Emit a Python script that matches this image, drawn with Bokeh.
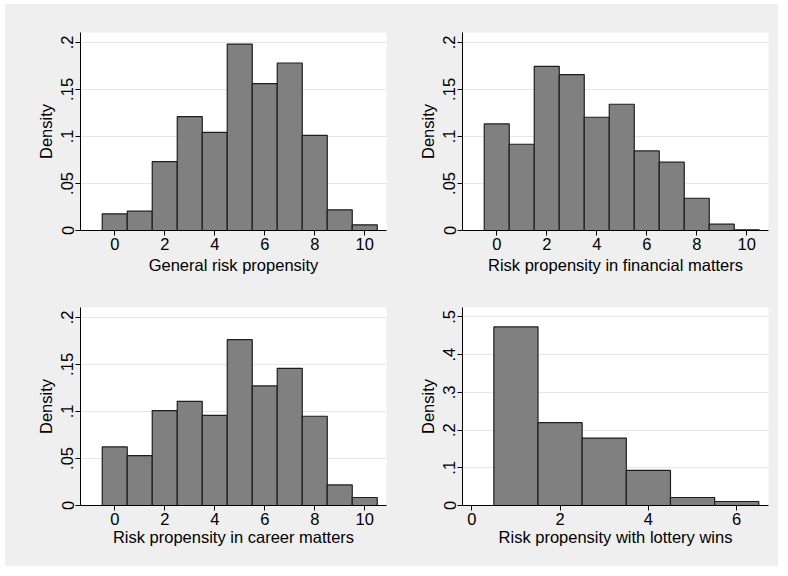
from bokeh.plotting import figure
from bokeh.layouts import column, row
from bokeh.models import Range1d, FixedTicker
from bokeh.embed import file_html
from bokeh.resources import INLINE

# Answer categories (bin centres) and densities for each risk question
scale_0_10 = [0, 1, 2, 3, 4, 5, 6, 7, 8, 9, 10]
general_density = [0.0177, 0.0205, 0.0733, 0.1210, 0.1044, 0.1982, 0.1561, 0.1781, 0.1012, 0.0220, 0.0060]
financial_density = [0.1133, 0.0917, 0.1745, 0.1657, 0.1204, 0.1342, 0.0846, 0.0726, 0.0343, 0.0067, 0.0007]
career_density = [0.0623, 0.0531, 0.1009, 0.1108, 0.0959, 0.1763, 0.1271, 0.1458, 0.0949, 0.0219, 0.0085]
scale_1_6 = [1, 2, 3, 4, 5, 6]
lottery_density = [0.4735, 0.2195, 0.1788, 0.0929, 0.0212, 0.0106]

x_ticks_0_10 = [0, 2, 4, 6, 8, 10]
x_ticks_lottery = [0, 2, 4, 6]
y_ticks_small = [0, 0.05, 0.1, 0.15, 0.2]
y_labels_small = ["0", ".05", ".1", ".15", ".2"]
y_ticks_large = [0, 0.1, 0.2, 0.3, 0.4, 0.5]
y_labels_large = ["0", ".1", ".2", ".3", ".4", ".5"]

BG = "#efefef"
FONT = "Liberation Sans"


def panel(xs, dens, xlabel, xr, yr, xticks, yticks, ylabels,
          width, height, left, right, top, bottom, xlabel_standoff):
    p = figure(width=width, height=height, output_backend="svg",
               toolbar_location=None,
               x_range=Range1d(*xr), y_range=Range1d(*yr),
               min_border_left=left, min_border_right=right,
               min_border_top=top, min_border_bottom=bottom,
               styles={"background-color": BG})
    p.background_fill_color = "white"
    p.border_fill_color = BG
    p.outline_line_color = None

    p.quad(left=[x - 0.5 for x in xs], right=[x + 0.5 for x in xs],
           bottom=[0] * len(xs), top=dens,
           fill_color="#808080", line_color="#1e1e1e", line_width=1.2)

    p.xgrid.grid_line_color = None
    p.ygrid.grid_line_color = "#e6e6e6"
    p.ygrid.grid_line_width = 1.2
    p.ygrid.ticker = FixedTicker(ticks=yticks)

    p.xaxis.ticker = FixedTicker(ticks=xticks)
    p.yaxis.ticker = FixedTicker(ticks=yticks)
    p.yaxis.major_label_overrides = {t: s for t, s in zip(yticks, ylabels)}
    p.yaxis.major_label_orientation = "vertical"

    p.xaxis.axis_label = xlabel
    p.yaxis.axis_label = "Density"
    for ax in (p.xaxis, p.yaxis):
        ax.axis_line_color = "black"
        ax.axis_line_width = 1
        ax.major_tick_line_color = "black"
        ax.major_tick_out = 5
        ax.major_tick_in = 0
        ax.minor_tick_line_color = None
        ax.major_label_text_font = FONT
        ax.major_label_text_font_size = "16.5px"
        ax.major_label_text_color = "black"
        ax.axis_label_text_font = FONT
        ax.axis_label_text_font_size = "16.5px"
        ax.axis_label_text_font_style = "normal"
        ax.axis_label_text_color = "black"
    p.xaxis.major_label_standoff = 2
    p.xaxis.axis_label_standoff = xlabel_standoff
    p.yaxis.major_label_standoff = 2
    p.yaxis.axis_label_standoff = 4
    return p


p1 = panel(scale_0_10, general_density, "General risk propensity",
           (-1.37, 10.87), (0, 0.2105), x_ticks_0_10, y_ticks_small, y_labels_small,
           387, 281, 75, 6, 28, 55, 3)
p2 = panel(scale_0_10, financial_density, "Risk propensity in financial matters",
           (-1.37, 10.87), (0, 0.2105), x_ticks_0_10, y_ticks_small, y_labels_small,
           386, 281, 70, 10, 28, 55, 3)
p3 = panel(scale_0_10, career_density, "Risk propensity in career matters",
           (-1.37, 10.87), (0, 0.2105), x_ticks_0_10, y_ticks_small, y_labels_small,
           387, 281, 75, 6, 22, 61, 0)
p4 = panel(scale_1_6, lottery_density, "Risk propensity with lottery wins",
           (-0.21, 6.72), (0, 0.525), x_ticks_lottery, y_ticks_large, y_labels_large,
           386, 281, 70, 10, 22, 61, 0)

layout = column(row(p1, p2, spacing=0, styles={"background-color": BG}),
                row(p3, p4, spacing=0, styles={"background-color": BG}),
                spacing=0, margin=(4, 0, 0, 5),
                styles={"background-color": BG})

open("out.html", "w").write(file_html(layout, INLINE))
